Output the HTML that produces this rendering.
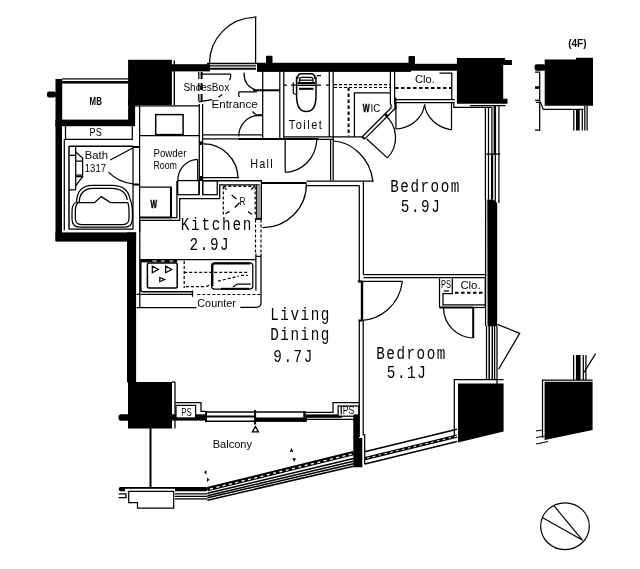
<!DOCTYPE html>
<html>
<head>
<meta charset="utf-8">
<title>Floor plan</title>
<style>
html,body{margin:0;padding:0;background:#fff;}
body{width:640px;height:569px;overflow:hidden;font-family:"Liberation Sans",sans-serif;}
svg{display:block;}
.k{fill:#000;stroke:none;}
.l{fill:none;stroke:#000;stroke-width:1.25;}
.m{fill:none;stroke:#000;stroke-width:1.5;}
.t{fill:none;stroke:#000;stroke-width:2;}
.w{fill:#fff;stroke:none;}
.wb{fill:#fff;stroke:#000;stroke-width:1.25;}
.d{fill:none;stroke:#000;stroke-width:1.2;stroke-dasharray:3 2;}
.dd{fill:none;stroke:#000;stroke-width:2;stroke-dasharray:3.5 2.5;}
text{fill:#000;}
.big{font-family:"Liberation Mono",monospace;font-size:14.3px;}
.sm{font-family:"Liberation Sans",sans-serif;font-size:10.9px;}
</style>
</head>
<body>
<svg width="640" height="569" viewBox="0 0 640 569">
<rect x="0" y="0" width="640" height="569" fill="#fff"/>

<!-- ============ THICK WALLS / COLUMNS ============ -->
<g id="walls" class="k">
  <!-- column A top-left -->
  <rect x="128.1" y="59.8" width="43.8" height="45.2"/>
  <!-- MB box walls -->
  <rect x="55.5" y="79" width="6.7" height="47"/>
  <rect x="55.5" y="119.6" width="79.5" height="6.6"/>
  <rect x="128.1" y="100" width="7" height="26"/>
  <rect x="62" y="81" width="67" height="2.6"/>
  <rect x="62" y="78.3" width="67" height="1.2"/>
  <rect x="47" y="91.5" width="9" height="6" rx="2"/>
  <!-- left wall bath -->
  <rect x="55.5" y="124" width="6.5" height="117"/>
  <rect x="55.5" y="232.4" width="80.6" height="9.2"/>
  <rect x="127" y="232.4" width="9.1" height="150"/>
  <!-- column D bottom-left -->
  <rect x="128" y="382" width="44" height="46.5"/>
  <rect x="118.5" y="414.3" width="12" height="6.4" rx="2.5"/>
  <!-- top wall -->
  <rect x="171" y="64.2" width="39" height="7.2"/>
  <rect x="257" y="62.8" width="154" height="9.1"/>
  <rect x="409" y="63.8" width="49" height="6.9"/>
  <rect x="266" y="55.7" width="6.5" height="8" rx="1"/>
  <rect x="408.5" y="56" width="6.5" height="8" rx="1"/>
  <!-- column B top-right -->
  <polygon points="456.9,58.1 505,58.1 505,60 511.9,60 511.9,65 503.2,65 503.2,98.8 507.5,98.8 507.5,103.8 456.9,103.8"/>
  <!-- right wall -->
  <polygon points="487.3,199.5 493,199.5 497.2,203 497.2,326.3 487.6,326.3"/>
  <!-- column C bottom-right -->
  <polygon points="458,383.5 503.6,383.5 503.6,431.4 458,442.5"/>
  <!-- bottom middle wall -->
  <path d="M353.3,413.8H359V438H362.3V467.3H353.3Z"/>
  <!-- right fragment top -->
  <polygon points="544.7,59.5 576,59.5 576,57.8 593,57.8 593,105.8 544.7,105.8"/>
  <rect x="534.6" y="64.3" width="11" height="6.5" rx="2"/>
  <!-- right fragment bottom -->
  <polygon points="544.6,381.8 592.6,381.8 592.6,430 544.6,440"/>
</g>

<!-- ============ THIN LINES ============ -->
<g id="thin" class="l">
  <!-- column A thin outline right -->
  <path stroke-width="1.4" d="M174.3,60.5V105"/>
  <!-- PS box under MB -->
  <path d="M65.5,126V139.3H132.3V126"/>
  <!-- bath outlines -->
  <path d="M64.3,139.3V230.5"/>
  <path class="m" d="M69,146V229.2"/>
  <path class="m" d="M69,146.2H133"/>
  <path d="M133,146V229.2 M69,229.2H133"/>
  <path d="M139.6,106V232"/>
  <!-- shower fixtures -->
  <path d="M69,155.3H75.7 M75.7,146V189.8 M69,189.8H75.7"/>
  <path d="M75.7,161.2H82.6V175.2H75.7"/>
  <path d="M75.7,152 L82.6,158 V161.2"/>
  <path d="M75.7,176.5H82.6 L75.7,185.8"/>
  <!-- bath door -->
  <path d="M132.8,148 L110.2,160"/>
  <path d="M108.5,172.1 Q118,182 132.8,183.8"/>
  <!-- bathtub -->
  <path d="M76.6,202 C76.6,192 82,185.3 92,185.3 H112 C122,185.3 128.5,190 130,199"/>
  <path d="M76.6,202 C72,204 72,208 72,213 V219 Q72,227.1 80,227.1 H124.4 Q132.4,227.1 132.4,219 V213 C132.4,206 131.5,202 130,199"/>
  <path d="M79.3,202 C79.3,194 84,188.4 93,188.4 H111 C120,188.4 126,192 127.3,200"/>
  <path d="M78,202.6 C75.3,205 75.3,208 75.3,213 V218 Q75.3,224.5 81.5,224.5 H123 Q129,224.5 129,218 V213 C129,207 128.5,204 127.7,202.6"/>
  <path d="M76.6,202.6 H94.5 L101.2,196.6 L110.5,202.6 H127.7"/>

  <!-- powder room -->
  <path d="M135,105.8H199.7"/>
  <path d="M199.3,104V195"/>
  <path d="M202.6,104V195"/>
  <rect x="155.7" y="114.6" width="27.4" height="20" stroke-width="1.5"/>
  <path d="M139.6,135.6H199.5"/>
  <!-- powder inner door -->
  <path d="M197.7,159.3V180.6"/>
  <path d="M197.7,159.3 A20,21.3 0 0 0 177.8,180.6"/>
  <rect x="177.7" y="180.6" width="21.2" height="14.1"/>
  <rect x="202.7" y="180.6" width="14.5" height="14.1"/>
  <!-- W box -->
  <path d="M140,187H171V218"/>
  <path d="M176.9,181V217.7H171"/>
  <path d="M139.8,220.3H179.7V198.6H219.7V184.8H259.8"/>
  <!-- hall door (powder) -->
  <path d="M202.8,144 A34.5,34.5 0 0 1 238,178"/>
  <path d="M202.8,177.5H239"/>
  <!-- kitchen top -->
  <path d="M256.7,184.8V218.5"/>
  <path d="M261.4,181V218.5"/>
  <!-- kitchen left line -->
  <path d="M139.8,220V307.8"/>

  <!-- entrance -->
  <path d="M207.5,63.4V66M258,63.4V71"/>
  <path class="m" d="M207,63.4H258.3"/>
  <path d="M209.8,65.9H256"/>
  <path class="t" d="M209.8,68.7H256"/>
  <path d="M255.6,17.5V63"/>
  <path d="M254,17.5 Q255,16 256.5,17.5"/>
  <path d="M253.8,17.4 A46,46 0 0 0 209.5,63"/>
  <path d="M262.7,71.5V139"/>
  <path d="M202.6,134.8H262.7"/>
  <path d="M202.6,138.8H262"/>
  <!-- entrance small arc -->
  <path d="M258,115.4 A20,21 0 0 0 238.7,136.4"/>
  <path class="t" d="M255.5,115.2H262.7"/>
  <path d="M252.5,111.5 L255.5,114.5"/>

  <!-- toilet room -->
  <path d="M279.8,71.5V139"/>
  <path d="M283.8,71.5V139"/>
  <path d="M329.3,71.5V137"/>
  <path d="M333.2,71.5V140"/>
  <path d="M283.8,136.8H362.7"/>
  <path class="t" d="M238.7,139H318.5"/>
  <path d="M318,139.4H334"/>
  <!-- toilet door -->
  <path d="M285.2,139V172"/>
  <path d="M285.2,172.3 C302,172 316,158 316.9,139.5"/>
  <!-- hall right -->
  <path d="M330.6,140V180.6"/>
  <path d="M333.2,140V180.6"/>
  <path d="M333.2,141 C352,142 370,158 372.8,180.8"/>
  <path d="M306.4,181H373.8"/>

  <!-- living top wall -->
  <path d="M306.4,185.5H359.3"/>
  <path d="M306.4,183.5 A43.5,43.5 0 0 1 262.5,227.6" />
  <!-- bedroom1 left wall -->
  <path d="M359.3,185.5V281.4"/>
  <path d="M363.4,181V274.7"/>
  <!-- bedroom divider -->
  <path d="M363.4,274.7H486.5"/>
  <path d="M363.4,277.6H440"/>
  <path d="M359.3,281.4H402.6"/>
  <!-- bedroom2 left wall -->
  <path d="M359.3,320.4V437"/>
  <path d="M363.2,320.4V434.8H364.7V450"/>
  <!-- bedroom 2 door -->
  <path d="M362.2,320.4 C380,319 399,306 402.3,282"/>

  <!-- WIC -->
  <path d="M354.4,137V92.9H390.4"/>
  <path d="M390.4,71.5V104.5"/>
  <path d="M394.6,71.5V104"/>
  <path d="M362.7,136.3 L391,108 V104"/>
  <path d="M365,138.6 L395.4,108.2"/>
  <path class="t" d="M362,136.8 L364.8,139 M385,113.6 L388,116.4"/>
  <path class="t" d="M395.4,97.5V109"/>
  <!-- WIC door arc -->
  <path d="M385.3,115.2 A29.5,29.5 0 0 1 387.4,157.9"/>
  <path d="M366.5,138.8 L387.4,157.9"/>
  <!-- Clo top -->
  <path d="M395.4,99.7H454.7"/>
  <path d="M395.4,102.7H454.7"/>
  <path d="M439.4,73H451.8V99.7"/>
  <path d="M395.9,102.7V129"/>
  <path d="M395.9,129 C411,128 423,118 424.6,104.5"/>
  <path d="M451.5,102.7V129.8"/>
  <path d="M451.5,129.8 C438,128 426,118 424.6,104.5"/>
  <!-- column B outline -->
  <path d="M453.8,101.9V107.3H491.5"/>
  <!-- window right bedroom1 -->
  <path stroke-width="1.3" d="M485.4,107V200"/>
  <path d="M488.5,107V199.5"/>
  <path d="M491.9,107V154"/>
  <path stroke-width="2.5" d="M494.85,105.5V154"/>
  <path stroke-width="2.2" d="M492.1,154V199.5"/>
  <path d="M495.3,154V202"/>
  <path d="M498.9,105.5V203"/>
  <path d="M485,154.1H500.3"/>
  <path d="M470,105.5H505.5"/>

  <!-- bedroom2 PS / Clo -->
  <path d="M439.5,278.5V307.5"/>
  <path d="M452.3,278.5V293.6H443V305.8"/>
  <path d="M443.7,291H449"/>
  <path d="M439.5,277.6H486"/>
  <path d="M443,304.8H485.3"/>
  <path d="M473,307.5H485.3"/>
  <path d="M485.3,278.5V307.5"/>
  <!-- window bedroom2 right -->
  <path d="M485.6,200V326 M486.5,326V380"/>
  <path class="m" d="M489.2,326V380"/>
  <path class="m" d="M492.3,326V380"/>
  <path d="M494.6,326V380"/>
  <path d="M497,326V384"/>
  <path d="M497.5,324.4 L519.7,333.3 L498.6,369.2"/>
  <!-- column C outline -->
  <path d="M454.3,436V379.5H503.6"/>

  <!-- bottom PS right -->
  <!-- bottom PS left -->
  <path d="M175,382V428.5"/>
  <path d="M172,382H175"/>
  <path d="M175,402.7H201V411.3H206"/>

  <!-- balcony vertical -->

  <!-- compass -->
  <ellipse cx="565" cy="526.2" rx="24.3" ry="23.4" stroke-width="1.2"/>
  <path stroke-width="1.2" d="M553.6,505.3 L582.6,540.3 L542.7,517.8"/>

  <!-- right fragment top lines -->
  <path d="M535,72H539.7V130H535"/>
  <path d="M535,100.3H539.7"/>
  <path d="M536,102.3H540.5 L543.3,109.4 H583.5"/>
  <path d="M573.8,109.4V130.5"/>
  <path d="M582.3,109.4V130.5"/>
  <path d="M584.8,105.8V130.5"/>
  <path d="M587.1,105.8V130.5"/>
  <!-- right fragment bottom lines -->
  <path d="M573.6,355V380"/>
  <path d="M583.3,355V380"/>
  <path d="M585.9,355V380"/>
  <path d="M595.6,353.7 L584,372.5"/>
  <path d="M542.5,438V380H592.6"/>
  <path d="M536,431 L542,430"/>
  <path d="M536,437.5 L545,436"/>
  <path d="M536,444 L548,441.5"/>
</g>

<g id="med">
  <!-- thicker lines -->
  <path class="t" d="M261,182.9H306.4"/>
  <path stroke="#000" stroke-width="2.4" d="M362,281.4V320.4"/>
  <path class="t" d="M357.8,281.4H362.5 M358.5,320.4H362.5"/>
  <path class="t" d="M473.2,307.5V338"/>
  <path class="t" d="M439.5,307.5H473.2"/>
  <path class="l" d="M473,338 A30.5,30.5 0 0 1 443.5,308"/>
  <path class="t" d="M253,90.3H280"/>
  <path class="t" d="M171,187V217.5H140"/>
  <path class="t" d="M255,218.8H262"/>
  <path class="m" d="M202,180.7H262"/>
  <rect x="257.2" y="185" width="3.8" height="33" fill="#999"/>
  <rect class="k" x="199.6" y="176" width="2.4" height="5"/>
  <rect class="k" x="199.6" y="141.5" width="2.8" height="3.5"/>
  <path class="t" d="M133,147H139.6M133,184.4H139.6"/>
  <path class="t" d="M150.5,428V490"/>
  <rect class="k" x="576" y="109.4" width="3.7" height="21.1"/>
  <rect class="k" x="575.9" y="355" width="4.7" height="25"/>
  <rect class="k" x="535" y="86.3" width="5" height="2.6"/>
  
</g>

<!-- ============ DASHED ============ -->
<g id="dashed">
  <path class="d" stroke-width="1.3" stroke-dasharray="4 4.5" d="M334,84.7H391"/>
  <path class="d" stroke-width="1.3" stroke-dasharray="4 4.5" d="M334,87.5H391"/>
  <path class="dd" stroke-width="2.4" stroke-dasharray="3.5 5.2" d="M348.6,87.5V136"/>
  <path class="dd" stroke-width="2.4" stroke-dasharray="3.6 4.9" d="M395,88.1H451"/>
  <path class="dd" stroke-width="2.2" stroke-dasharray="3.6 4.4" d="M455,292.8H483"/>
    <!-- shoes box -->
  <path class="l" stroke-dasharray="7 4" d="M198.8,72V104"/>
  <path class="t" stroke-dasharray="7 4" d="M201.6,72V104"/>
  <path class="l" d="M200.6,74.2H230.6 Q231.3,77 229.5,80.2"/>
  <path class="l" d="M244.2,72.5 Q243,86 256.9,90.5"/>
  <path class="l" d="M257,91.8H239.2 Q238,94.5 239.4,97"/>
  <path class="l" d="M198.8,101.9 L211.9,99.6 M218.4,97.2 L222.2,94.4"/>
  <!-- fridge -->
  <path class="d" d="M223.3,186.5V215.3 M255.2,186.5V215.3"/>
  <path class="m" stroke-dasharray="3 2" d="M223.3,186.3H255.2"/>
  <path class="l" d="M231.7,195 L236.4,198.9 M239.5,202.8 L234.8,207.5 M225.5,213.8 L229.4,211.4 M248,211.4 L252,214.5 M251.2,189.5 L253.6,187 M224.5,187.5 L226.5,189.5"/>
  <path class="d" stroke-width="1.5" stroke-dasharray="4.5 4" d="M255.5,219.5V253"/>
  <path class="d" stroke-width="1.5" stroke-dasharray="4.5 4" d="M261,219.5V253"/>
  <path class="l" d="M255.9,256.4H261"/>
  <!-- kitchen counter dashed -->
  <path class="d" d="M184.2,261V288 M186,286.6H205 Q209,286 211,284"/>
  <path class="d" d="M184.2,272.3H247.7 M241,275.3H247.7"/>
  <path class="d" d="M218,281.2 L238.8,276"/>
  <path class="d" d="M197.3,294.5H261"/>
  
</g>

<!-- ============ KITCHEN COUNTER ============ -->
<g id="kitchen" class="l">
  <path d="M139.8,259.5H255.9"/>
  <path class="m" d="M140.8,262V289.7Q140.8,291.7 143,291.7H192.5"/>
  <path d="M136.5,294.3H192.5 M192.5,290.5V296.8"/>
  <rect class="k" x="140.3" y="259.5" width="36.8" height="2.9"/>
  <path stroke="#fff" stroke-width="1.1" fill="none" d="M152.3,261H156.8 M160.8,261H164.8 M169.4,261H173.4"/>
  <path d="M255.9,253.7V290.8"/>
  <path d="M261,253.7V302.5 Q261,307.3 256,307.3 H240.3"/>
  <path d="M136.5,307.6H196.5"/>
  <rect x="147.4" y="262.9" width="29.8" height="25.2" rx="1.5" class="m"/>
  <rect x="211.6" y="262.8" width="41.2" height="26.3" rx="3"/>
  <path class="t" d="M212.4,286V266 Q212.4,263.6 215,263.6 H250"/>
  <path class="t" d="M221,288.8H249"/>
  <path d="M237.3,284.1H250.7 M237.3,284.1 L232.9,287"/>
  <path stroke-width="1.2" d="M152.3,266 L158.4,269.4 L152.3,272.8Z M165.6,266 L171.7,269.4 L165.6,272.8Z M159.8,277.5 L164.6,279.6 L159.8,281.7Z"/>
</g>

<!-- ============ BOTTOM WINDOWS / BALCONY ============ -->
<g id="balc">
  <!-- living window -->
  <rect class="k" x="172" y="414.3" width="34.5" height="6.3"/>
  <rect class="wb" x="176" y="405.4" width="19.6" height="12.6"/>
  <rect class="k" x="205" y="411.2" width="2" height="11"/>
  <path class="m" d="M206,411.9H304.5"/>
  <path class="t" d="M206,416.5H255"/>
  <path class="m" d="M206,421.2H255"/>
  <rect class="k" x="255" y="417.5" width="51.8" height="4.4"/>
  <path class="t" d="M255.1,410V424.4"/>
  <rect class="k" x="303.3" y="411.2" width="2.4" height="10.7"/>
  <rect class="k" x="305.6" y="414.4" width="36.3" height="3.4"/>
  <path class="l" d="M305.6,412.3H333V402.5H359.4"/>
  <path class="l" d="M305.6,419.4H354.4"/>
  <rect class="wb" x="338.1" y="406" width="20.6" height="10.2"/>
  <path class="l" d="M341.2,406V414.4"/>
  <rect class="k" x="353.5" y="414.4" width="5.5" height="3"/>
  <path class="l" d="M252.3,431.9 L255.4,426.6 L258.5,431.9Z"/>
  <!-- balcony rail left -->
  <rect class="k" x="118.7" y="487" width="89" height="4.3" rx="2"/>
  <rect class="w" x="125" y="488.8" width="50" height="2.5"/>
  <path class="l" d="M175,493.8H207.5 M175,496.3H207.5 M175,498.8H207.5"/>
  <path class="l" d="M118.7,493.8H126V497.5H118.7"/>
  <path class="wb" d="M128.7,491.3H173.7V508H137.5V502.5H128.7Z"/>
  <!-- balcony slanted rail -->
  <path stroke="#000" stroke-width="4.3" fill="none" d="M207.5,489.2 L353.5,453.2"/>
  <path stroke="#fff" stroke-width="1.3" fill="none" stroke-dasharray="3 3.5" d="M210,489 L353.5,453.6"/>
  <path class="m" stroke-width="1.6" d="M207.5,493.3 L353.5,458.4 M207.5,495.7 L353.5,461.2 M207.5,497.8 L353.5,463.7 M207.5,500.2 L353.5,466.2"/>
  <!-- bedroom2 window slanted -->
  <path class="m" d="M364.7,451.7 L457,429.2"/>
  <path stroke="#000" stroke-width="3.3" fill="none" d="M365,458.6 L457,436.1"/>
  <path stroke="#fff" stroke-width="1" fill="none" stroke-dasharray="2.5 3.5" d="M367,458.1 L457,436.1"/>
  <path class="m" d="M365,464.1 L457,441.6"/>
  <path class="l" d="M364.7,449.7V464.2"/>
  <!-- small markers -->
  <path class="k" d="M206.5,470 L204,472.3 L206.5,474.5Z M207,477.5 L209.5,479.8 L207,482Z"/>
  <path class="l" d="M290.3,452 L291.5,449.5 L292.7,452 M293,458 L294.2,460.5 L295.4,458"/>
</g>

<!-- ============ TOILET ============ -->
<g id="toilet" class="l">
  <path class="m" d="M296.6,76.5 V96 C296.6,106 300,111.6 306.3,111.6 C312.6,111.6 316,106 316,96 V76.5"/>
  <path class="m" d="M297.5,79 Q297.5,73.8 301.5,73.8 H311 Q315,73.8 315,79"/>
  <path d="M299.5,82 V79.5 Q299.5,77.4 302,77.4 H310.5 Q313,77.4 313,79.5 V82"/>
  <path d="M300,80.2H312.6"/>
  <path class="t" d="M297.5,83H315.2"/>
  <path class="m" d="M297.5,85.3H315.2"/>
  <path class="t" d="M299,88.8H313.6"/>
  <path d="M293.3,82.6V93.5 M293.3,93.5 L296.5,94.5"/>
  <path d="M283.7,85H287 M291,85H296 M317,85H321 M326,85H329 M317,75.5H321"/>
</g>

<!-- ============ TEXT ============ -->
<g id="text" opacity="0.99">
  <text class="big" transform="translate(390.2,191.8) scale(1,1.27)" textLength="69.2" lengthAdjust="spacing">Bedroom</text>
  <text class="big" transform="translate(400.7,211.9) scale(1,1.27)" textLength="39.2" lengthAdjust="spacing">5.9J</text>
  <text class="big" transform="translate(376.2,358.9) scale(1,1.27)" textLength="69.2" lengthAdjust="spacing">Bedroom</text>
  <text class="big" transform="translate(386.7,378.2) scale(1,1.27)" textLength="39.2" lengthAdjust="spacing">5.1J</text>
  <text class="big" transform="translate(180.7,230.0) scale(1,1.27)" textLength="70.7" lengthAdjust="spacing">Kitchen</text>
  <text class="big" transform="translate(189.5,250.4) scale(1,1.27)" textLength="39.2" lengthAdjust="spacing">2.9J</text>
  <text class="big" transform="translate(270.2,320.4) scale(1,1.27)" textLength="59.2" lengthAdjust="spacing">Living</text>
  <text class="big" transform="translate(270.2,340.1) scale(1,1.27)" textLength="59.2" lengthAdjust="spacing">Dining</text>
  <text class="big" transform="translate(273.2,362.4) scale(1,1.27)" textLength="39.2" lengthAdjust="spacing">9.7J</text>

  <text class="sm" x="183.4" y="90.5" textLength="45.8" lengthAdjust="spacingAndGlyphs">ShoesBox</text>
  <text class="sm" x="211.6" y="107.6" textLength="46" lengthAdjust="spacingAndGlyphs">Entrance</text>
  <text class="sm" transform="translate(288.8,129) scale(1,1.1)" font-size="10.5" textLength="33" lengthAdjust="spacing">Toilet</text>
  <text class="sm" transform="translate(250.2,167.8) scale(1,1.1)" font-size="10.5" textLength="22.5" lengthAdjust="spacing">Hall</text>
  <text class="sm" x="153.4" y="157" textLength="33" lengthAdjust="spacingAndGlyphs">Powder</text>
  <text class="sm" x="153.4" y="169" textLength="23.6" lengthAdjust="spacingAndGlyphs">Room</text>
  <text class="sm" x="84.8" y="159" textLength="23.2" lengthAdjust="spacingAndGlyphs">Bath</text>
  <text class="sm" x="84.8" y="172" textLength="21.3" lengthAdjust="spacingAndGlyphs">1317</text>
  <text class="sm" x="89.6" y="136.4" textLength="12.2" lengthAdjust="spacingAndGlyphs">PS</text>
  <text class="sm" x="89.6" y="105.4" textLength="12.2" lengthAdjust="spacingAndGlyphs" font-weight="bold">MB</text>
  <text class="sm" x="150.6" y="208.4" font-weight="bold" font-size="10.5" textLength="6.6" lengthAdjust="spacingAndGlyphs" stroke="#000" stroke-width="0.5">W</text>
  <text class="sm" x="239.5" y="204.5" font-size="10" textLength="6" lengthAdjust="spacingAndGlyphs">R</text>
  <text class="sm" x="362.7" y="112.2" textLength="7" lengthAdjust="spacingAndGlyphs" font-weight="bold" stroke="#000" stroke-width="0.4">W</text>
  <text class="sm" x="370.6" y="112.2" textLength="9.8" lengthAdjust="spacingAndGlyphs">IC</text>
  <text class="sm" x="415" y="82.9" textLength="19.8" lengthAdjust="spacingAndGlyphs">Clo.</text>
  <text class="sm" x="460.4" y="289.2" textLength="20.2" lengthAdjust="spacingAndGlyphs">Clo.</text>
  <text class="sm" x="441" y="288" textLength="10" lengthAdjust="spacingAndGlyphs" font-size="11">PS</text>
  <text class="sm" x="181.3" y="415.5" textLength="10.5" lengthAdjust="spacingAndGlyphs" font-size="10">PS</text>
  <text class="sm" x="342.8" y="413.9" textLength="11.5" lengthAdjust="spacingAndGlyphs" font-size="10">PS</text>
  <text class="sm" x="197.3" y="307" textLength="38.5" lengthAdjust="spacingAndGlyphs">Counter</text>
  <text class="sm" x="212.7" y="448" textLength="39.3" lengthAdjust="spacingAndGlyphs">Balcony</text>
  <text class="sm" x="568.2" y="47.3" textLength="18.4" lengthAdjust="spacingAndGlyphs" font-size="9.5" font-weight="bold">(4F)</text>
</g>
</svg>
</body>
</html>
